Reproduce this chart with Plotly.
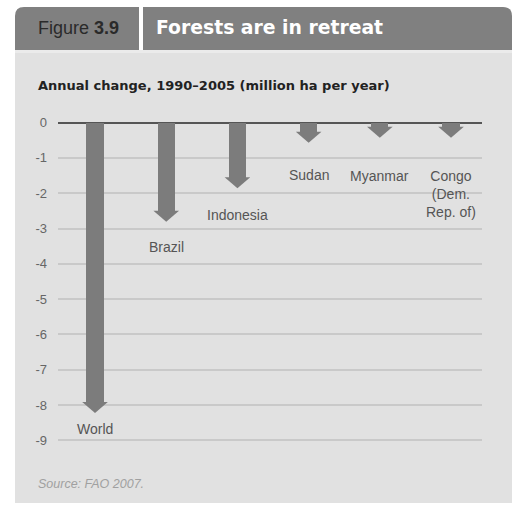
import plotly.graph_objects as go

# ---- data ----
categories = ["World", "Brazil", "Indonesia", "Sudan", "Myanmar", "Congo<br>(Dem.<br>Rep. of)"]
values = [-8.22, -2.81, -1.86, -0.57, -0.43, -0.43]
tick_vals = [0, -1, -2, -3, -4, -5, -6, -7, -8, -9]
tick_text = ["0", "-1", "-2", "-3", "-4", "-5", "-6", "-7", "-8", "-9"]
title_fig = "Figure <b>3.9</b>"
title_main = "Forests are in retreat"
subtitle = "Annual change, 1990–2005 (million ha per year)"
source = "<i>Source: FAO 2007.</i>"

W, H = 515, 508
FONT = "Liberation Sans, Arial, sans-serif"
BOLDFONT = "DejaVu Sans, Liberation Sans, sans-serif"
BAR = "#7c7c7c"
HEAD = "#808080"

def px(x):
    return x / W

def py(y):
    return 1 - y / H

# plot area in pixels
L, R, T, B = 58, 482, 113.7, 449.3

fig = go.Figure()

shaft_w = 0.24
head_w = 0.36
head_h = 0.31
xs = list(range(len(categories)))

# shafts
fig.add_trace(go.Bar(
    x=xs, y=[v + head_h for v in values], width=shaft_w,
    marker=dict(color=BAR, line=dict(width=0)), hoverinfo="skip", showlegend=False,
))
# arrow heads (triangles computed from values)
for i, v in zip(xs, values):
    fig.add_trace(go.Scatter(
        x=[i - head_w / 2, i + head_w / 2, i, i - head_w / 2],
        y=[v + head_h, v + head_h, v, v + head_h],
        fill="toself", fillcolor=BAR, mode="lines", line=dict(width=0, color=BAR),
        hoverinfo="skip", showlegend=False,
    ))

# labels below arrow tips (pixel gaps)
gaps = [6, 15, 17, 22, 28, 28]
for i, v, c, g in zip(xs, values, categories, gaps):
    fig.add_annotation(x=i, y=v, xref="x", yref="y", text=c, showarrow=False,
                       yanchor="top", xanchor="center", yshift=-g,
                       font=dict(family=FONT, size=14, color="#555555"))

shapes = []
# background panel
shapes.append(dict(type="rect", xref="paper", yref="paper", x0=px(15), x1=px(512),
                   y0=py(503), y1=py(53), fillcolor="#e1e1e1", line=dict(width=0), layer="below"))
shapes.append(dict(type="rect", xref="paper", yref="paper", x0=px(15), x1=px(512),
                   y0=py(53), y1=py(50), fillcolor="#ebebeb", line=dict(width=0), layer="below"))
# header boxes with rounded top corners
r = 9
def box(x0, x1, y0, y1, left_round, right_round):
    p = f"M {px(x0)} {py(y1)} "
    if left_round:
        p += f"L {px(x0)} {py(y0 + r)} Q {px(x0)} {py(y0)} {px(x0 + r)} {py(y0)} "
    else:
        p += f"L {px(x0)} {py(y0)} "
    if right_round:
        p += f"L {px(x1 - r)} {py(y0)} Q {px(x1)} {py(y0)} {px(x1)} {py(y0 + r)} "
    else:
        p += f"L {px(x1)} {py(y0)} "
    p += f"L {px(x1)} {py(y1)} Z"
    return p
shapes.append(dict(type="path", xref="paper", yref="paper", path=box(15, 139, 7, 50, True, False),
                   fillcolor=HEAD, line=dict(width=0), layer="below"))
shapes.append(dict(type="path", xref="paper", yref="paper", path=box(143, 512, 7, 50, False, True),
                   fillcolor=HEAD, line=dict(width=0), layer="below"))

fig.update_layout(shapes=shapes)

fig.add_annotation(x=px(36), y=py(28), xref="paper", yref="paper", text=title_fig, showarrow=False,
                   xanchor="left", yanchor="middle", font=dict(family=FONT, size=18, color="#2a2a2a"))
fig.add_annotation(x=px(154), y=py(27), xref="paper", yref="paper", text="<b>" + title_main + "</b>",
                   showarrow=False, xanchor="left", yanchor="middle",
                   font=dict(family=BOLDFONT, size=18.8, color="#ffffff"))
fig.add_annotation(x=px(36), y=py(85), xref="paper", yref="paper", text="<b>" + subtitle + "</b>",
                   showarrow=False, xanchor="left", yanchor="middle",
                   font=dict(family=BOLDFONT, size=13, color="#222222"))
fig.add_annotation(x=px(36), y=py(484), xref="paper", yref="paper", text=source,
                   showarrow=False, xanchor="left", yanchor="middle",
                   font=dict(family=FONT, size=12.5, color="#a0a0a0"))

fig.update_layout(
    width=W, height=H,
    margin=dict(l=0, r=0, t=0, b=0),
    paper_bgcolor="#ffffff",
    plot_bgcolor="rgba(0,0,0,0)",
    bargap=0,
    xaxis=dict(domain=[px(L), px(R)], range=[-0.52, 5.435], visible=False, fixedrange=True),
    yaxis=dict(domain=[py(B), py(T)], range=[-9.25, 0.25],
               tickvals=tick_vals, ticktext=tick_text,
               showgrid=True, gridcolor="#c9c9c9", gridwidth=1.5,
               zeroline=True, zerolinecolor="#555555", zerolinewidth=2,
               showline=False, ticks="", ticklabelstandoff=10,
               tickfont=dict(family=FONT, size=13, color="#666666"), fixedrange=True),
)

fig.write_html("out.html")
